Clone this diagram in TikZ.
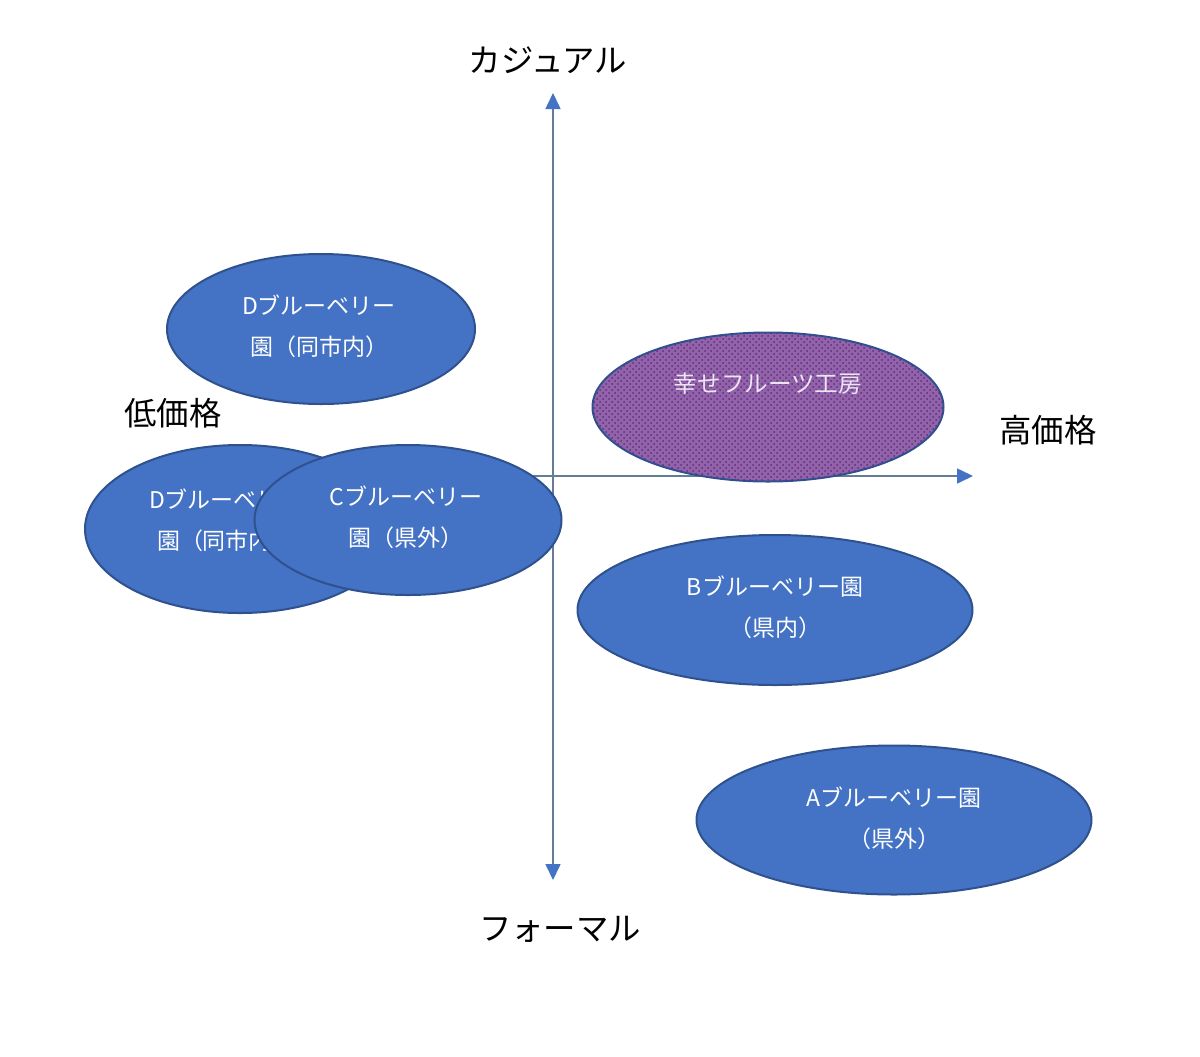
\documentclass[tikz,border=0pt]{standalone}
\usepackage{fontspec}
\setmainfont{Noto Sans CJK JP}
\usetikzlibrary{arrows.meta,patterns,shapes.geometric}
\definecolor{blobfill}{HTML}{4472C4}
\definecolor{blobline}{HTML}{2F528F}
\definecolor{axisline}{RGB}{100,124,150}
\definecolor{tipblue}{HTML}{4472C4}
\definecolor{purplefill}{RGB}{145,100,168}
\definecolor{purpledark}{RGB}{100,40,140}
\definecolor{paletext}{RGB}{236,228,242}
\tikzset{
  blob/.style={ellipse, draw=blobline, fill=blobfill, line width=1pt, inner sep=0pt},
  lbl/.style={text=white, align=center, font=\fontsize{11.5}{20.5}\selectfont},
  axislbl/.style={text=black, font=\fontsize{16.2}{18}\selectfont},
  axis/.style={draw=axisline, line width=0.8pt},
}
\begin{document}
\begin{tikzpicture}[x=0.5pt,y=-0.5pt]
\useasboundingbox (0,0) rectangle (1200,1056);
% axes
\coordinate (vtop) at (553,93);
\coordinate (vbot) at (553,880);
\coordinate (hl) at (300,476);
\coordinate (hr) at (973,476);
\draw[axis, {Triangle[width=7.5pt,length=8pt,color=tipblue]}-{Triangle[width=7.5pt,length=8pt,color=tipblue]}] (vtop) -- (vbot);
\draw[axis, -{Triangle[width=7.5pt,length=8pt,color=tipblue]}] (hl) -- (hr);
% axis labels
\node[axislbl] (casual) at (548,60) {カジュアル};
\node[axislbl] (formal) at (560,929) {フォーマル};
\node[axislbl] (low) at (173,413) {低価格};
\node[axislbl] (high) at (1048,430) {高価格};
% D upper
\node[blob, minimum width=154pt, minimum height=75pt] (du) at (321,329) {};
\node[lbl] (dut) at (319,326) {Dブルーベリー\\園（同市内）};
% D left
\node[blob, minimum width=155pt, minimum height=84pt] (dl) at (240,529) {};
\node[lbl] (dlt) at (226,520) {Dブルーベリー\\園（同市内）};
% C
\node[blob, minimum width=153.5pt, minimum height=75pt] (c) at (408,520) {};
\node[lbl] (ct) at (406,517) {Cブルーベリー\\園（県外）};
% purple
\node[ellipse, draw=blobline, line width=1pt, fill=purplefill,
      postaction={pattern=crosshatch dots, pattern color=purpledark},
      minimum width=175.5pt, minimum height=74.5pt, inner sep=0pt] (p) at (768,407) {};
\node[lbl, text=paletext, font=\fontsize{11.8}{20.5}\selectfont] (pt) at (768,384) {幸せフルーツ工房};
% B
\node[blob, minimum width=197.5pt, minimum height=75pt] (b) at (775,610) {};
\node[lbl] (bt) at (775,607) {Bブルーベリー園\\（県内）};
% A
\node[blob, minimum width=197.5pt, minimum height=74.5pt] (a) at (894,820) {};
\node[lbl] (at) at (894,818) {Aブルーベリー園\\（県外）};
\end{tikzpicture}
\end{document}
